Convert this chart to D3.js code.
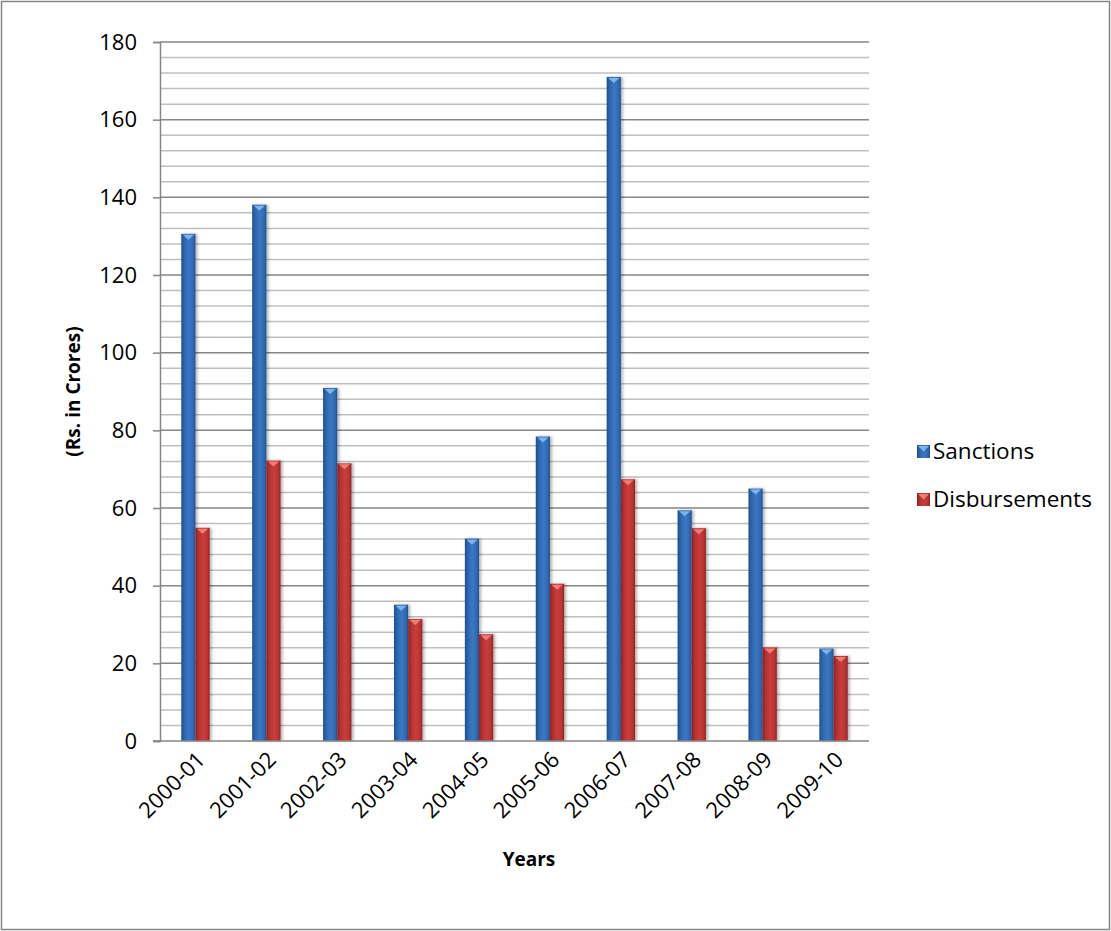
<!DOCTYPE html>
<html>
<head>
<meta charset="utf-8">
<script src="https://cdn.jsdelivr.net/npm/d3@7"></script>
<style>
  html, body { margin: 0; padding: 0; background: #fff; }
  svg { display: block; font-family: "Open Sans", Lato, "Liberation Sans", sans-serif; }
</style>
</head>
<body>
<svg id="chart" width="1111" height="931"></svg>
<script>
// Sanctions and disbursements by financial year (Rs. in Crores)
const years = ["2000-01", "2001-02", "2002-03", "2003-04", "2004-05",
               "2005-06", "2006-07", "2007-08", "2008-09", "2009-10"];
const sanctions     = [130.6, 138.1, 90.9, 35.1, 52.1, 78.4, 171.0, 59.4, 65.0, 23.8];
const disbursements = [54.9, 72.2, 71.5, 31.4, 27.5, 40.5, 67.4, 54.8, 24.1, 21.9];
const seriesNames = ["Sanctions", "Disbursements"];
const yTicks = [0, 20, 40, 60, 80, 100, 120, 140, 160, 180];

const svg = d3.select("#chart");
const W = 1111, H = 931;
const plot = { left: 160, right: 869, top: 42, bottom: 741 };
const FONT = "'Open Sans', Lato, sans-serif";

// outer frame
svg.append("rect").attr("x", 1.5).attr("y", 1.5).attr("width", W - 3).attr("height", H - 3)
  .attr("fill", "#fff").attr("stroke", "#868686").attr("stroke-width", 1.5);

const defs = svg.append("defs");
function barGradient(id, edge, mid, light) {
  const g = defs.append("linearGradient").attr("id", id).attr("x1", 0).attr("x2", 1).attr("y1", 0).attr("y2", 0);
  g.append("stop").attr("offset", "0%").attr("stop-color", edge);
  g.append("stop").attr("offset", "25%").attr("stop-color", mid);
  g.append("stop").attr("offset", "55%").attr("stop-color", light);
  g.append("stop").attr("offset", "85%").attr("stop-color", mid);
  g.append("stop").attr("offset", "100%").attr("stop-color", edge);
}
barGradient("gBlue", "#1f4f8f", "#2f68b0", "#3a78c4");
barGradient("gRed", "#8e2322", "#b83331", "#c93d3a");
const shadow = defs.append("filter").attr("id", "shadow").attr("x", "-50%").attr("width", "200%");
shadow.append("feDropShadow").attr("dx", 2).attr("dy", 0).attr("stdDeviation", 1.5)
  .attr("flood-color", "#000").attr("flood-opacity", 0.3);

const y = d3.scaleLinear().domain([0, 180]).range([plot.bottom, plot.top]);
const x0 = d3.scaleBand().domain(years).range([plot.left, plot.right]).paddingInner(0).paddingOuter(0);
const x1 = d3.scaleBand().domain(seriesNames).range([x0.bandwidth() * 0.3, x0.bandwidth() * 0.7]).padding(0);

// gridlines: minor every 4, major every 20
const minor = d3.range(4, 181, 4).filter(v => v % 20 !== 0);
svg.append("g").selectAll("line").data(minor).join("line")
  .attr("x1", plot.left).attr("x2", plot.right)
  .attr("y1", d => y(d)).attr("y2", d => y(d))
  .attr("stroke", "#bfbfbf").attr("stroke-width", 1.5);
svg.append("g").selectAll("line").data(yTicks.filter(v => v > 0)).join("line")
  .attr("x1", plot.left).attr("x2", plot.right)
  .attr("y1", d => y(d)).attr("y2", d => y(d))
  .attr("stroke", "#868686").attr("stroke-width", 1.5);

// y axis
const yAxis = d3.axisLeft(y).tickValues(yTicks).tickSize(7).tickPadding(16).tickFormat(d3.format("d"));
const gy = svg.append("g").attr("transform", `translate(${plot.left},0)`).call(yAxis);
gy.select(".domain").attr("stroke", "#868686").attr("stroke-width", 1.5);
gy.selectAll(".tick line").attr("stroke", "#868686").attr("stroke-width", 1.5);
gy.selectAll(".tick text").attr("font-size", 22).attr("fill", "#000").attr("font-family", FONT);

// bars
const groups = svg.append("g").selectAll("g").data(years).join("g")
  .attr("transform", d => `translate(${x0(d)},0)`);
const rows = i => [
  { s: "Sanctions", v: sanctions[i] },
  { s: "Disbursements", v: disbursements[i] }
];
groups.each(function(d, i) {
  const g = d3.select(this);
  const data = rows(i);
  g.selectAll("rect").data(data).join("rect")
    .attr("x", e => x1(e.s)).attr("width", x1.bandwidth())
    .attr("y", e => y(e.v)).attr("height", e => y(0) - y(e.v))
    .attr("fill", e => e.s === "Sanctions" ? "url(#gBlue)" : "url(#gRed)")
    .attr("filter", "url(#shadow)");
  // bevel highlight at bar top
  g.selectAll("path.cap").data(data).join("path").attr("class", "cap")
    .attr("d", e => {
      const xl = x1(e.s) + 1.5, xr = x1(e.s) + x1.bandwidth() - 1.5, yt = y(e.v) + 1;
      const xm = (xl + xr) / 2;
      return `M${xl},${yt}L${xr},${yt}L${xm},${yt + 5}Z`;
    })
    .attr("fill", e => e.s === "Sanctions" ? "#7fb3ec" : "#f07c78");
});

// x axis baseline
svg.append("line").attr("x1", plot.left - 7).attr("x2", plot.right)
  .attr("y1", plot.bottom).attr("y2", plot.bottom)
  .attr("stroke", "#868686").attr("stroke-width", 1.5);

// rotated category labels
const xAxis = d3.axisBottom(x0).tickSize(0).tickPadding(0);
const gx = svg.append("g").attr("transform", `translate(0,${plot.bottom})`).call(xAxis);
gx.select(".domain").remove();
gx.selectAll(".tick text")
  .attr("font-size", 22).attr("fill", "#000").attr("font-family", FONT)
  .attr("text-anchor", "end")
  .attr("dy", 0)
  .attr("transform", "translate(11,20) rotate(-45)");

// axis titles
svg.append("text").attr("transform", `translate(80,${(plot.top + plot.bottom) / 2}) rotate(-90)`)
  .attr("text-anchor", "middle").attr("font-size", 19).attr("font-weight", "bold")
  .attr("font-family", FONT).text("(Rs. in Crores)");
svg.append("text").attr("x", 529).attr("y", 866)
  .attr("text-anchor", "middle").attr("font-size", 19).attr("font-weight", "bold")
  .attr("font-family", FONT).text("Years");

// legend
const legend = svg.append("g").attr("transform", "translate(917,445)");
const legendItems = legend.selectAll("g").data(seriesNames).join("g")
  .attr("transform", (d, i) => `translate(0,${i * 48})`);
legendItems.append("rect").attr("width", 13).attr("height", 13).attr("y", 0)
  .attr("fill", d => d === "Sanctions" ? "url(#gBlue)" : "url(#gRed)");
legendItems.append("path")
  .attr("d", "M1,1L12,1L6.5,6.5Z")
  .attr("fill", d => d === "Sanctions" ? "#7fb3ec" : "#f07c78");
legendItems.append("text").attr("x", 16).attr("y", 14)
  .attr("font-size", 22.5).attr("fill", "#000").attr("font-family", FONT).text(d => d);
</script>
</body>
</html>
